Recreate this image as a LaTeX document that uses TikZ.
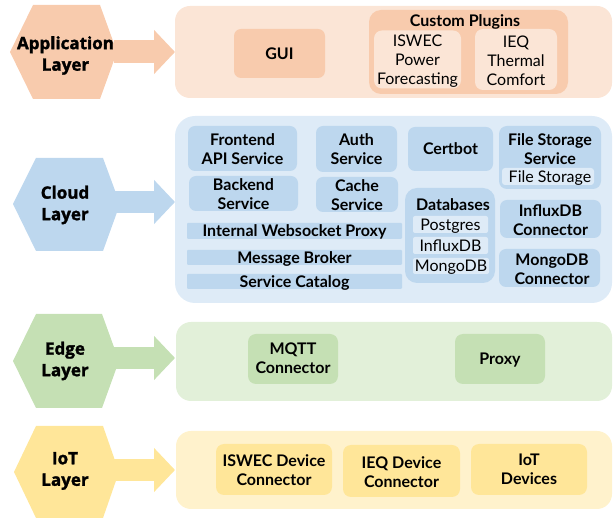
\documentclass[tikz,border=0pt]{standalone}
\usepackage{fontspec}
\setmainfont{Lato}
\newfontfamily\heavyfont{Open Sans}[BoldFeatures={FakeBold=1.6}]
\usetikzlibrary{arrows.meta,calc}
\definecolor{oH}{HTML}{F8CBAD}\definecolor{oL}{HTML}{FBE5D6}
\definecolor{bH}{HTML}{BDD7EE}\definecolor{bL}{HTML}{DEEBF7}
\definecolor{gH}{HTML}{C5E0B4}\definecolor{gL}{HTML}{E2F0D9}
\definecolor{yH}{HTML}{FFE699}\definecolor{yL}{HTML}{FFF2CC}
\newcommand{\tl}[1]{\rule{0pt}{#1pt}}
\newcommand{\tb}{\rule[-4pt]{0pt}{4pt}}
\tikzset{
 x=1pt,y=-1pt,
 boxbase/.style={inner sep=0pt,outer sep=0pt,align=center,text=black,font=\fontsize{16}{19}\selectfont\bfseries},
 plain/.style={font=\fontsize{16}{19}\selectfont},
 one/.style={text height=11.5pt,text depth=0pt},
 hextext/.style={inner sep=0pt,align=center,text=black,font=\fontsize{17}{21.5}\selectfont\heavyfont\bfseries},
 flow/.style={line width=#1,-{Triangle[length=21pt,width=43pt]}},
}
% \bx{name}{x1}{y1}{x2}{y2}{radius}{color}{extra}{text}
\newcommand{\bx}[9]{\node[boxbase,fill=#7,rounded corners=#6pt,minimum width=#4pt-#2pt,minimum height=#5pt-#3pt,#8] (#1) at ({(#2+#4)/2},{(#3+#5)/2}) {#9};}
% \hexa{color}{left}{tl}{tr}{right}{top}{bottom}{mid}
\newcommand{\hexa}[8]{\fill[#1] (#2,#8) -- (#3,#6) -- (#4,#6) -- (#5,#8) -- (#4,#7) -- (#3,#7) -- cycle;}
\begin{document}
\begin{tikzpicture}
\useasboundingbox (0,0) rectangle (614,518);
% panels
\bx{appPanel}{175}{6}{612}{98}{15}{oL}{}{}
\bx{cloudPanel}{175}{116}{612}{303}{20}{bL}{}{}
\bx{edgePanel}{176}{322}{612}{401}{15}{gL}{}{}
\bx{iotPanel}{176}{431}{612}{509}{15}{yL}{}{}
% layer hexagons
\hexa{oH}{10}{33}{100}{117}{5}{99}{52}
\node[hextext] (appHex) at (65.5,55.5) {Application\\Layer};
\hexa{bH}{13}{36}{103}{120}{158}{251}{204}
\node[hextext] (cloudHex) at (65,205) {Cloud\\Layer};
\hexa{gH}{13}{36}{102}{119}{314}{408}{361}
\node[hextext] (edgeHex) at (65,361) {Edge\\Layer};
\hexa{yH}{14}{36}{103}{119}{426}{518}{472}
\node[hextext] (iotHex) at (65,471) {IoT\\Layer};
% arrows
\coordinate (appTip) at (175,52);\coordinate (cloudTip) at (175,202);\coordinate (edgeTip) at (175,358);\coordinate (iotTip) at (175,470);
\draw[flow=23pt,oH] (appHex.east |- appTip) -- (appTip);
\draw[flow=22pt,bH] (cloudHex.east |- cloudTip) -- (cloudTip);
\draw[flow=22pt,gH] (edgeHex.east |- edgeTip) -- (edgeTip);
\draw[flow=22pt,yH] (iotHex.east |- iotTip) -- (iotTip);
% application
\bx{gui}{234}{29}{325}{78}{7}{oH}{one}{GUI}
\bx{plugins}{369}{10}{568}{94}{12}{oH}{}{}
\node[boxbase,one] (pluginsT) at (465,21) {Custom Plugins};
\bx{iswec}{374}{31}{461}{88}{8}{oL}{plain}{\tl{16}ISWEC\\Power\\Forecasting\tb}
\bx{ieq}{475}{31}{557}{88}{8}{oL}{plain}{\tl{19}IEQ\\Thermal\\Comfort\tb}
% cloud
\bx{frontend}{188}{126}{297}{171}{7}{bH}{}{\tl{18}Frontend\\API Service\tb}
\bx{backend}{189}{176}{298}{211}{7}{bH}{}{}
\node[boxbase] (backendT) at (243.5,194.25) {\tl{16}Backend\\Service\tb};
\bx{auth}{316}{126}{397}{172}{7}{bH}{}{\tl{17}Auth\\Service\tb}
\bx{cache}{316}{177}{398}{212}{7}{bH}{}{}
\node[boxbase] (cacheT) at (357,195.25) {\tl{16}Cache\\Service\tb};
\bx{certbot}{408}{127}{493}{171}{7}{bH}{one}{Certbot}
\bx{filesvc}{499}{126}{601}{189}{8}{bH}{}{}
\node[boxbase] (filesvcT) at (550,149) {\tl{17}File Storage\\Service\tb};
\bx{filest}{502}{168}{594}{185}{3}{bL}{plain,one}{\hspace*{4pt}File Storage}
\bx{proxyint}{187}{223}{402}{239}{1}{bH}{one}{Internal Websocket Proxy}
\bx{broker}{187}{250}{402}{265}{1}{bH}{one}{Message Broker}
\bx{catalog}{187}{274}{402}{289}{1}{bH}{one}{Service Catalog}
\bx{dbs}{405}{188}{495}{283}{12}{bH}{}{}
\node[boxbase,one] (dbsT) at (453,205) {Databases};
\bx{pg}{413}{216}{488}{233}{2}{bL}{plain,one}{Postgres}
\bx{influx}{413}{237}{488}{254}{2}{bL}{plain,one}{InfluxDB}
\bx{mongo}{413}{258}{489}{274}{2}{bL}{plain,one}{MongoDB}
\bx{influxc}{500}{200}{601}{238}{7}{bH}{}{}
\node[boxbase] (influxcT) at (550.5,220.25) {\tl{16}InfluxDB\\Connector\tb};
\bx{mongoc}{499}{249}{600}{287}{7}{bH}{}{}
\node[boxbase] (mongocT) at (552,269.25) {\tl{16}MongoDB\\Connector\tb};
% edge
\bx{mqtt}{248}{334}{338}{384}{8}{gH}{}{\tl{16}MQTT\\Connector\rule[-6pt]{0pt}{6pt}}
\bx{proxy}{455}{334}{545}{384}{8}{gH}{one}{Proxy}
% iot
\bx{iswecd}{216}{444}{332}{495}{8}{yH}{}{\tl{18}ISWEC Device\\Connector\tb}
\bx{ieqd}{343}{445}{460}{497}{8}{yH}{}{\tl{18}IEQ Device\\Connector\tb}
\bx{iotd}{471}{444}{587}{495}{8}{yH}{}{\tl{18}IoT\\Devices\rule[-6pt]{0pt}{6pt}}
\end{tikzpicture}
\end{document}
